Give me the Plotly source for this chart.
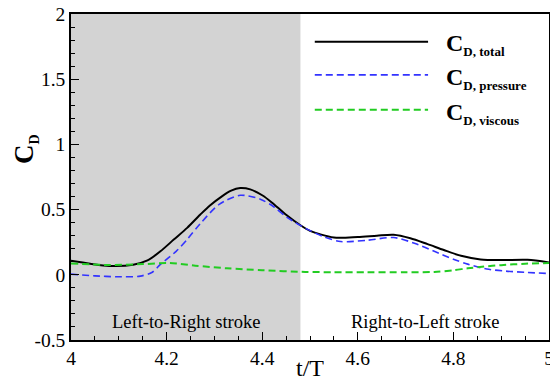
import plotly.graph_objects as go

# data
t_total = [4.00, 4.04, 4.08, 4.13, 4.16, 4.187, 4.215, 4.243, 4.27, 4.29, 4.315, 4.335, 4.354, 4.375, 4.40, 4.42, 4.45, 4.48, 4.50, 4.55, 4.60, 4.64, 4.675, 4.71, 4.746, 4.78, 4.816, 4.857, 4.90, 4.955, 5.00]
cd_total = [0.107, 0.085, 0.068, 0.077, 0.11, 0.18, 0.27, 0.36, 0.46, 0.53, 0.60, 0.645, 0.665, 0.655, 0.61, 0.555, 0.46, 0.38, 0.337, 0.286, 0.29, 0.30, 0.307, 0.28, 0.235, 0.19, 0.146, 0.118, 0.113, 0.115, 0.095]

t_press = [4.00, 4.05, 4.096, 4.145, 4.17, 4.187, 4.22, 4.245, 4.27, 4.31, 4.354, 4.396, 4.425, 4.452, 4.494, 4.53, 4.564, 4.62, 4.675, 4.72, 4.76, 4.80, 4.83, 4.87, 4.91, 4.955, 5.00]
cd_press = [0.005, -0.008, -0.015, -0.01, 0.02, 0.08, 0.18, 0.28, 0.39, 0.54, 0.61, 0.58, 0.52, 0.44, 0.35, 0.29, 0.255, 0.265, 0.286, 0.24, 0.18, 0.12, 0.082, 0.044, 0.028, 0.018, 0.01]

t_visc = [4.00, 4.08, 4.15, 4.207, 4.26, 4.326, 4.40, 4.49, 4.55, 4.62, 4.70, 4.76, 4.80, 4.83, 4.86, 4.90, 4.95, 5.00]
cd_visc = [0.087, 0.075, 0.082, 0.09, 0.07, 0.05, 0.035, 0.022, 0.02, 0.02, 0.02, 0.022, 0.035, 0.05, 0.062, 0.074, 0.085, 0.09]

series_names = ["D, total", "D, pressure", "D, viscous"]
series_colors = ["#000000", "#3333ff", "#22cc22"]
series_dash = ["solid", "7px,4px", "7px,4px"]

stroke_split = 4.48
stroke_labels = ["Left-to-Right stroke", "Right-to-Left stroke"]

FONT = "Liberation Serif"

fig = go.Figure()
series = [(t_total, cd_total), (t_press, cd_press), (t_visc, cd_visc)]
widths = [2, 1.6, 2]
for (xs, ys), name, col, dash, w in zip(series, series_names, series_colors, series_dash, widths):
    fig.add_trace(go.Scatter(x=xs, y=ys, mode="lines", line=dict(color=col, dash=dash, width=w, shape="spline", smoothing=0.8),
                             showlegend=False, name=name))

# shaded region for left-to-right stroke
fig.add_shape(type="rect", xref="x", yref="paper", x0=4.0, x1=stroke_split, y0=0, y1=1,
              fillcolor="#d3d3d3", line_width=0, layer="below")

# stroke labels
fig.add_annotation(x=(4.0 + stroke_split) / 2, y=-0.36, xref="x", yref="y", text=stroke_labels[0],
                   showarrow=False, font=dict(family=FONT, size=18.5, color="black"))
fig.add_annotation(x=(stroke_split + 5.0) / 2, y=-0.36, xref="x", yref="y", text=stroke_labels[1],
                   showarrow=False, font=dict(family=FONT, size=18.5, color="black"))

# custom legend
leg_y = [0.915, 0.813, 0.706]
for name, col, dash, yy, w in zip(series_names, series_colors, series_dash, leg_y, widths):
    fig.add_shape(type="line", xref="paper", yref="paper", x0=0.51, x1=0.747, y0=yy, y1=yy,
                  line=dict(color=col, dash=dash, width=2 if w >= 2 else 1.8))
    fig.add_annotation(xref="paper", yref="paper", x=0.78, y=yy - 0.01, xanchor="left", yanchor="middle",
                       text="<b>C</b><sub><b><span style='font-size:13px'>%s</span></b></sub>" % name,
                       showarrow=False, font=dict(family=FONT, size=24, color="black"))

# y-axis title
fig.add_annotation(xref="paper", yref="paper", x=-0.095, y=0.585, xanchor="center", yanchor="middle",
                   text="<b>C</b><sub><b><span style='font-size:14px'>D</span></b></sub>", textangle=-90,
                   showarrow=False, font=dict(family=FONT, size=27, color="black"))

# x-axis title
fig.add_annotation(xref="paper", yref="paper", x=0.5, y=-0.087, xanchor="center", yanchor="middle",
                   text="t/T", showarrow=False, font=dict(family=FONT, size=24, color="black"))

fig.update_layout(
    width=550, height=381,
    margin=dict(l=71, r=1, t=14, b=41),
    paper_bgcolor="white", plot_bgcolor="white",
    font=dict(family=FONT, size=18, color="black"),
    xaxis=dict(range=[4, 5], tickvals=[4, 4.2, 4.4, 4.6, 4.8, 5], ticktext=["4", "4.2", "4.4", "4.6", "4.8", "5"],
               ticks="inside", ticklen=8, tickwidth=1, tickcolor="black", ticklabeloverflow="allow",
               minor=dict(dtick=0.05, ticks="inside", ticklen=4, tickcolor="black"), automargin=False,
               showgrid=False, zeroline=False, showline=True, linecolor="black", linewidth=1.5, mirror=True,
               tickfont=dict(family=FONT, size=19.5)),
    yaxis=dict(range=[-0.5, 2], tickvals=[-0.5, 0, 0.5, 1, 1.5, 2], ticktext=["-0.5", "0", "0.5", "1", "1.5", "2"],
               ticks="inside", ticklen=8, tickwidth=1, tickcolor="black", ticklabeloverflow="allow",
               minor=dict(dtick=0.1, ticks="inside", ticklen=4, tickcolor="black"), automargin=False,
               showgrid=False, zeroline=False, showline=True, linecolor="black", linewidth=1.5, mirror=True,
               tickfont=dict(family=FONT, size=19.5)),
)

fig.write_html("out.html")
